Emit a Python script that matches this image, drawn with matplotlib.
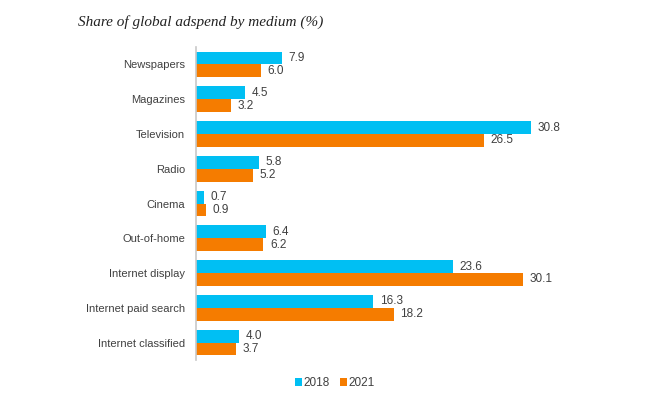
import numpy as np
import matplotlib.pyplot as plt

categories = ["Newspapers", "Magazines", "Television", "Radio", "Cinema",
              "Out-of-home", "Internet display", "Internet paid search",
              "Internet classified"]
share_2018 = [7.9, 4.5, 30.8, 5.8, 0.7, 6.4, 23.6, 16.3, 4.0]
share_2021 = [6.0, 3.2, 26.5, 5.2, 0.9, 6.2, 30.1, 18.2, 3.7]

c18 = "#00BFF3"
c21 = "#F57C00"
txt = "#404040"

plt.rcParams['font.family'] = ['Liberation Sans', 'DejaVu Sans']

fig = plt.figure(figsize=(6.66, 3.98), dpi=100)
ax = fig.add_axes([196/666, 1-360/398, 424/666, 313/398])

y = np.arange(len(categories))
h = 0.37
ax.barh(y - h/2, share_2018, height=h, color=c18, label="2018")
ax.barh(y + h/2, share_2021, height=h, color=c21, label="2021")

for yi, v in zip(y, share_2018):
    ax.text(v + 0.6, yi - h/2, f"{v:.1f}", va="center", ha="left", fontsize=8.5, color=txt)
for yi, v in zip(y, share_2021):
    ax.text(v + 0.6, yi + h/2, f"{v:.1f}", va="center", ha="left", fontsize=8.5, color=txt)

ax.set_xlim(0, 39)
ax.set_ylim(len(categories) - 0.5, -0.5)
ax.set_yticks(y)
ax.set_yticklabels(categories, fontsize=8, color=txt)
ax.tick_params(axis="y", length=0, pad=8)
ax.set_xticks([])
for s in ["top", "right", "bottom"]:
    ax.spines[s].set_visible(False)
ax.spines["left"].set_color("#c8c8c8")
ax.spines["left"].set_linewidth(1.2)

fig.text(78/666, 1-22/398, "Share of global adspend by medium (%)", family="Liberation Serif",
         style="italic", fontsize=11, color="#222222", va="center")

leg = fig.legend(loc="center", bbox_to_anchor=(335/666, 1-383/398), ncol=2, frameon=False,
                 fontsize=8.5, handlelength=0.6, handleheight=0.6, handletextpad=0.1,
                 columnspacing=0.9)
for t in leg.get_texts():
    t.set_color(txt)

fig.savefig("out.png", dpi=100, facecolor="white")
